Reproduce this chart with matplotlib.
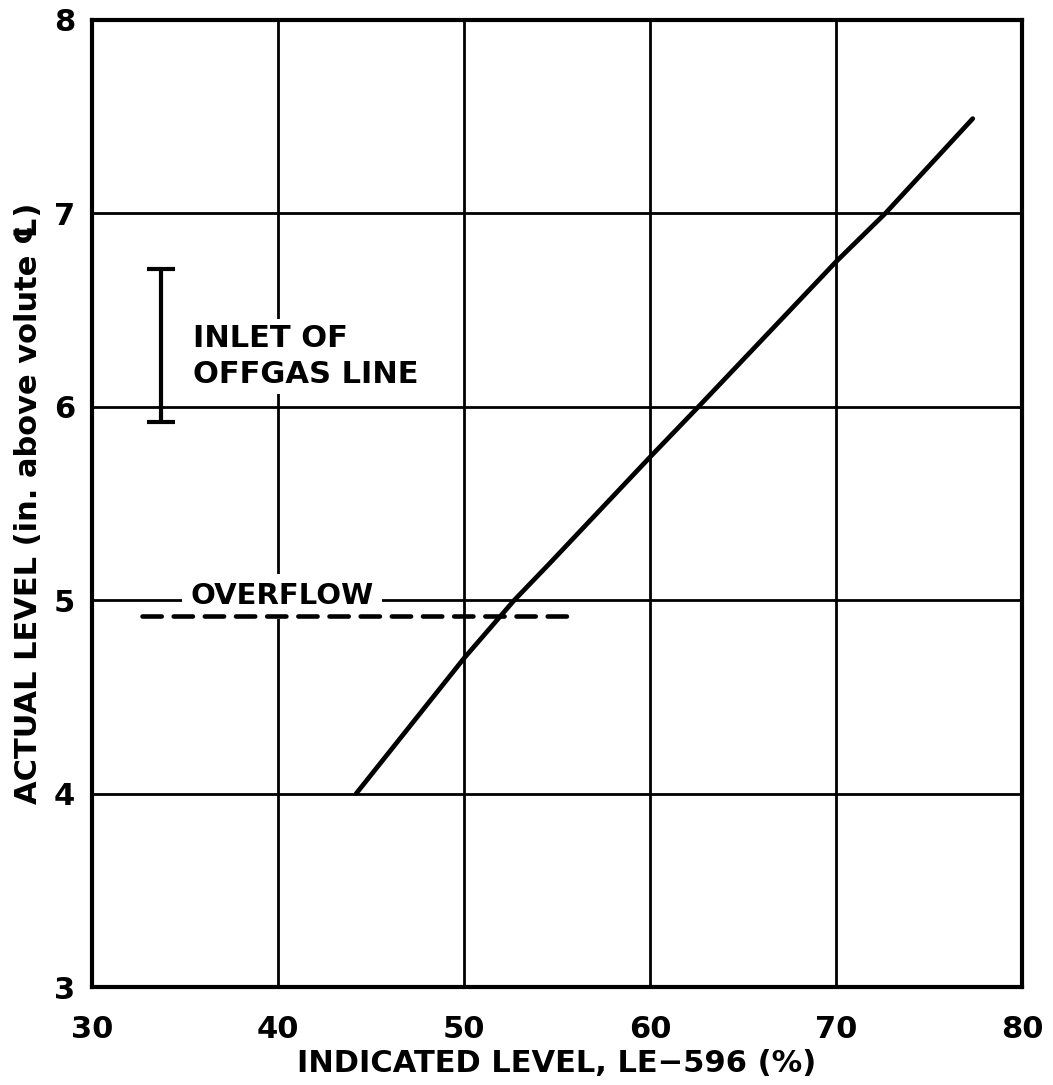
import matplotlib
matplotlib.use("Agg")
import matplotlib.pyplot as plt

plt.rcParams['font.family'] = ['DejaVu Sans']

# calibration curve
curve_x = [44.2, 50.0, 52.7, 54.6, 60.0, 62.6, 70.0, 72.65, 77.35]
curve_y = [4.0, 4.70, 5.0, 5.19, 5.74, 6.0, 6.75, 7.0, 7.49]

# overflow level (dashed)
overflow_x = [32.7, 55.8]
overflow_y = [4.92, 4.92]

# inlet of offgas line range
inlet_x = 33.7
inlet_lo = 5.92
inlet_hi = 6.71

x_ticks = [30, 40, 50, 60, 70, 80]
y_ticks = [3, 4, 5, 6, 7, 8]

fig = plt.figure(figsize=(10.53, 10.85), dpi=100)
ax = fig.add_axes([0.0874, 0.0903, 0.8832, 0.8913])

ax.set_xlim(30, 80)
ax.set_ylim(3, 8)
ax.set_xticks(x_ticks)
ax.set_yticks(y_ticks)
ax.grid(True, color='black', linewidth=2.0, zorder=1)
ax.set_axisbelow(True)
for s in ax.spines.values():
    s.set_linewidth(3.0)
ax.tick_params(length=0, labelsize=22)
ax.tick_params(axis='x', pad=20)
ax.tick_params(axis='y', pad=12)
for lab in ax.get_xticklabels() + ax.get_yticklabels():
    lab.set_fontweight('bold')

ax.plot(curve_x, curve_y, color='black', linewidth=3.4,
        solid_capstyle='round', zorder=5)

ax.text(35.27, 5.02, "OVERFLOW", fontsize=21, fontweight='bold',
        va='center', ha='left', zorder=3,
        bbox=dict(facecolor='white', edgecolor='none', pad=6))
ax.plot(overflow_x, overflow_y, color='black', linewidth=3.3,
        dashes=(4.2, 2.6), dash_capstyle='round', zorder=4)

ax.errorbar([inlet_x], [(inlet_lo + inlet_hi) / 2],
            yerr=[[(inlet_hi - inlet_lo) / 2], [(inlet_hi - inlet_lo) / 2]],
            fmt='none', ecolor='black', elinewidth=3.0, capsize=10,
            capthick=3.0, zorder=5)
ax.text(35.43, 6.26, "INLET OF\nOFFGAS LINE", fontsize=22, fontweight='bold',
        va='center', ha='left', linespacing=1.3, zorder=3,
        bbox=dict(facecolor='white', edgecolor='none', pad=4))

ax.set_xlabel("INDICATED LEVEL, LE\u2212596 (%)", fontsize=22,
              fontweight='bold', labelpad=4)
ax.set_ylabel("ACTUAL LEVEL (in. above volute \u2104)", fontsize=22,
              fontweight='bold', labelpad=8)

fig.savefig('out.png', dpi=100)
